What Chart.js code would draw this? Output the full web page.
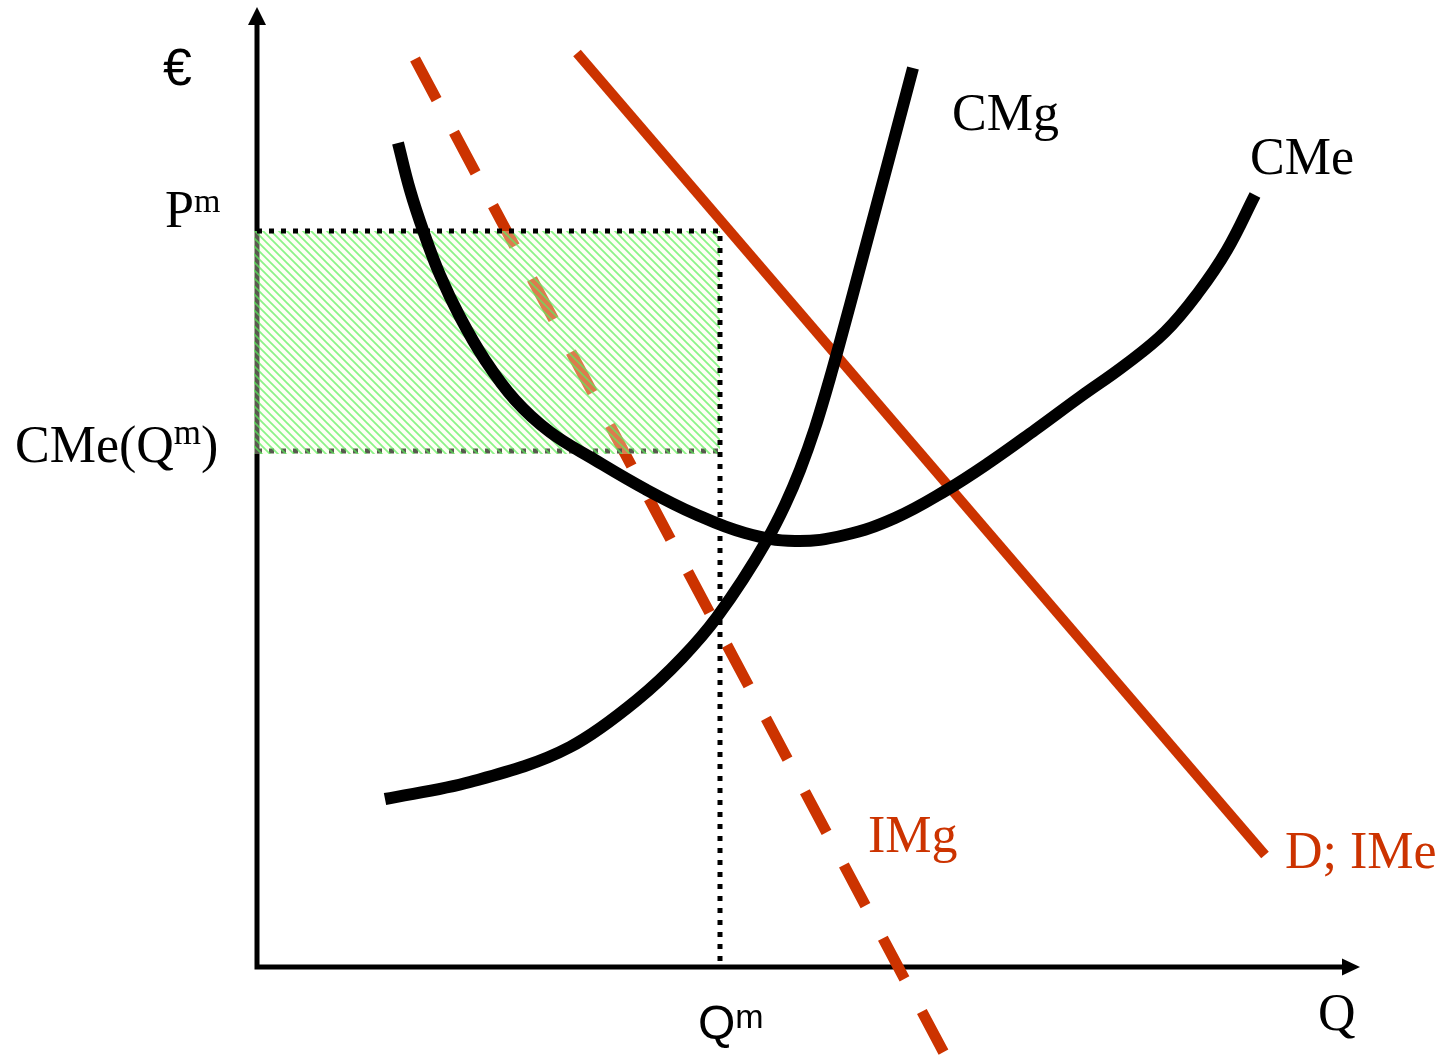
<!DOCTYPE html>
<html>
<head>
<meta charset="utf-8">
<script src="https://cdn.jsdelivr.net/npm/chart.js@4.4.1/dist/chart.umd.min.js"></script>
<style>
  html, body { margin: 0; padding: 0; background: #fff; overflow: hidden; }
  #wrap { position: absolute; left: 0; top: 0; width: 1443px; height: 1055px; }
</style>
</head>
<body>
<div id="wrap"><canvas id="monopoly"></canvas></div>
<script>
// monopoly optimum: output, price and average cost at that output
const Qm = 46.3;
const Pm = 73.6;
const CMeQm = 51.6;

// marginal cost (CMg)
const cmgQ = [12.8, 21.3, 31.3, 38.0, 42.5, 46.0, 51.0, 52.8, 54.3, 55.8, 57.3, 59.3, 61.3, 63.3, 65.6];
const cmgP = [16.8, 18.5, 22.0, 26.7, 30.9, 35.0, 42.7, 46.2, 49.7, 53.9, 58.9, 66.2, 73.7, 81.2, 89.9];

// average cost (CMe)
const cmeQ = [14.1, 15.3, 16.7, 18.3, 20.3, 22.8, 25.8, 29.3, 33.8, 38.8, 43.8, 48.8, 53.8, 58.8, 63.8, 68.8, 73.3, 77.8, 82.3, 86.8, 90.8, 94.1, 97.0, 99.8];
const cmeP = [82.4, 77.7, 73.4, 69.2, 65.0, 60.7, 56.7, 53.5, 50.7, 47.8, 45.3, 43.4, 42.6, 43.2, 44.9, 47.6, 50.5, 53.7, 57.0, 60.2, 63.5, 67.4, 71.7, 77.2];

// demand = average revenue (D; IMe) and marginal revenue (IMg), end points
const demandQ = [32.0, 100.8];
const demandP = [91.4, 11.2];
const imgQ = [15.8, 68.8];
const imgP = [90.8, -8.8];

// axis ends (arrow tips)
const axisQmax = 110.3;
const axisPmax = 96.0;

const RED = '#cc3300';
const SERIF = '"Liberation Serif", "Times New Roman", serif';
const SANS = '"Liberation Sans", Arial, sans-serif';

const pts = (xs, ys) => xs.map((x, i) => ({ x: x, y: ys[i] }));

const canvas = document.getElementById('monopoly');
const ctx = canvas.getContext('2d');

// diagonal green hatching for the profit area
const makeHatch = () => {
    const tile = document.createElement('canvas');
    tile.width = 8;
    tile.height = 8;
    const g = tile.getContext('2d');
    g.fillStyle = 'rgba(255,255,225,0.35)';
    g.fillRect(0, 0, 8, 8);
    g.strokeStyle = 'rgba(90,240,90,0.7)';
    g.lineWidth = 1.8;
    g.beginPath();
    g.moveTo(-1, -1); g.lineTo(9, 9);
    g.moveTo(7, -1); g.lineTo(9, 1);
    g.moveTo(-1, 7); g.lineTo(1, 9);
    g.stroke();
    return ctx.createPattern(tile, 'repeat');
};

// text labels: x/y in chart units, dx/dy in pixels
const labels = [
    { text: '€', x: -9.4, y: 88.2, font: SANS, size: 52, color: '#000' },
    { text: 'CMg', x: 69.5, y: 83.7, font: SERIF, size: 52, color: '#000' },
    { text: 'CMe', x: 99.3, y: 79.3, font: SERIF, size: 52, color: '#000' },
    { text: 'IMg', x: 61.1, y: 11.5, font: SERIF, size: 52, color: RED },
    { text: 'D; IMe', x: 102.8, y: 9.9, font: SERIF, size: 52, color: RED },
    { text: 'Q', x: 106.1, y: -6.3, font: SERIF, size: 52, color: '#000' },
    { text: 'P', sup: 'm', x: 0, y: Pm, dx: -92, dy: -4, font: SERIF, size: 52, supSize: 34, rise: 15, color: '#000' },
    { text: 'CMe(Q', sup: 'm', tail: ')', x: 0, y: CMeQm, dx: -242, dy: 11, font: SERIF, size: 52, supSize: 35, rise: 18, color: '#000' },
    { text: 'Q', sup: 'm', x: Qm, y: 0, dx: -22, dy: 72, font: SANS, size: 48, supSize: 34, rise: 11, color: '#000' }
];

const decorations = {
    id: 'decorations',
    afterDatasetsDraw(chart) {
        const c = chart.ctx;
        const xs = chart.scales.x;
        const ys = chart.scales.y;
        const ox = xs.getPixelForValue(0);
        const oy = ys.getPixelForValue(0);

        // arrow heads
        c.save();
        c.fillStyle = '#000';
        const tx = xs.getPixelForValue(axisQmax);
        c.beginPath();
        c.moveTo(tx, oy);
        c.lineTo(tx - 18, oy - 8.5);
        c.lineTo(tx - 18, oy + 8.5);
        c.closePath();
        c.fill();
        const ty = ys.getPixelForValue(axisPmax);
        c.beginPath();
        c.moveTo(ox, ty);
        c.lineTo(ox - 9, ty + 18);
        c.lineTo(ox + 9, ty + 18);
        c.closePath();
        c.fill();

        // labels
        c.textBaseline = 'alphabetic';
        c.textAlign = 'left';
        labels.forEach((l) => {
            let x = xs.getPixelForValue(l.x) + (l.dx || 0);
            const y = ys.getPixelForValue(l.y) + (l.dy || 0);
            c.fillStyle = l.color;
            c.font = l.size + 'px ' + l.font;
            c.fillText(l.text, x, y);
            x += c.measureText(l.text).width;
            if (l.sup) {
                c.font = l.supSize + 'px ' + l.font;
                c.fillText(l.sup, x, y - l.rise);
                x += c.measureText(l.sup).width;
            }
            if (l.tail) {
                c.font = l.size + 'px ' + l.font;
                c.fillText(l.tail, x, y);
            }
        });
        c.restore();
    }
};

new Chart(canvas, {
    type: 'line',
    data: {
        datasets: [
            {
                // Pm line and the vertical at Qm
                data: [{ x: 0, y: Pm }, { x: Qm, y: Pm }, { x: Qm, y: 0 }],
                borderColor: '#000',
                borderWidth: 5,
                borderDash: [5, 7],
                tension: 0,
                order: 0
            },
            {
                label: 'CMe',
                data: pts(cmeQ, cmeP),
                borderColor: '#000',
                borderWidth: 12,
                tension: 0.4,
                order: 1
            },
            {
                label: 'CMg',
                data: pts(cmgQ, cmgP),
                borderColor: '#000',
                borderWidth: 12,
                cubicInterpolationMode: 'monotone',
                order: 2
            },
            {
                // profit rectangle
                data: [{ x: -0.3, y: Pm }, { x: Qm, y: Pm }],
                borderColor: 'rgba(0,0,0,0)',
                borderWidth: 1,
                backgroundColor: makeHatch(),
                fill: { value: CMeQm - 0.3 },
                order: 3
            },
            {
                // CMe(Qm) line
                data: [{ x: 0, y: CMeQm }, { x: Qm, y: CMeQm }],
                borderColor: '#000',
                borderWidth: 5,
                borderDash: [5, 7],
                order: 4
            },
            {
                label: 'IMg',
                data: pts(imgQ, imgP),
                borderColor: RED,
                borderWidth: 11,
                borderDash: [46, 37],
                order: 5
            },
            {
                label: 'D; IMe',
                data: pts(demandQ, demandP),
                borderColor: RED,
                borderWidth: 10,
                order: 6
            },
            {
                // axes
                data: [{ x: 0, y: axisPmax - 1.7 }, { x: 0, y: 0 }, { x: axisQmax - 1.7, y: 0 }],
                borderColor: '#000',
                borderWidth: 5,
                borderJoinStyle: 'miter',
                order: 7
            }
        ]
    },
    options: {
        responsive: true,
        maintainAspectRatio: false,
        animation: false,
        layout: { padding: 0 },
        elements: { point: { radius: 0, hoverRadius: 0 } },
        plugins: { legend: { display: false }, tooltip: { enabled: false } },
        scales: {
            x: { type: 'linear', display: false, min: -25.7, max: 118.6 },
            y: { type: 'linear', display: false, min: -8.8, max: 96.7 }
        }
    },
    plugins: [decorations]
});
</script>
</body>
</html>
